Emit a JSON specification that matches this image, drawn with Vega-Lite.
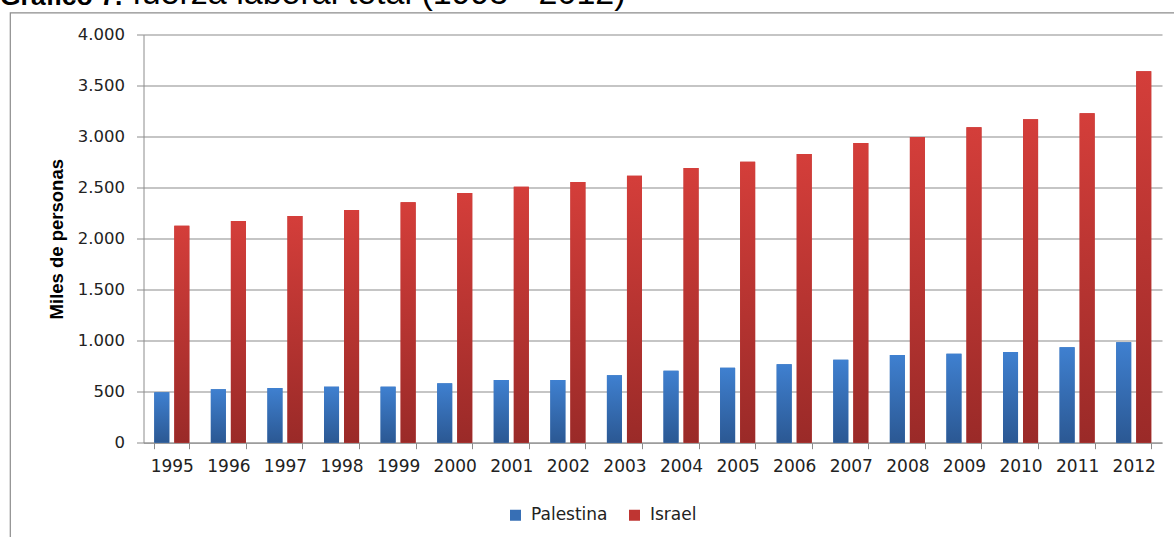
{
  "$schema": "https://vega.github.io/schema/vega-lite/v6.json",
  "autosize": {"type": "none"},
  "padding": {"left": 10, "top": 12.5, "right": 0, "bottom": 0},
  "width": 1180,
  "height": 540,
  "background": "white",
  "view": {"stroke": "#8c8c8c", "strokeWidth": 1.2, "fill": "white"},
  "title": {
    "text": "Gráfico 7.",
    "subtitle": "\u200b\u00a0\u00a0\u00a0\u00a0\u00a0\u00a0\u00a0\u00a0\u00a0\u00a0\u00a0\u00a0\u00a0\u00a0fuerza laboral total (1995 - 2012)",
    "anchor": "start",
    "frame": "group",
    "font": "Liberation Sans",
    "fontSize": 26.5,
    "fontWeight": "bold",
    "color": "#000000",
    "subtitleFont": "Liberation Sans",
    "subtitleFontSize": 34,
    "subtitleFontWeight": "normal",
    "subtitleColor": "#000000",
    "subtitlePadding": -33,
    "dx": -10,
    "offset": -5
  },
  "data": {
    "values": [
      {"year": "1995", "serie": "Palestina", "value": 494},
      {"year": "1996", "serie": "Palestina", "value": 524},
      {"year": "1997", "serie": "Palestina", "value": 536},
      {"year": "1998", "serie": "Palestina", "value": 549},
      {"year": "1999", "serie": "Palestina", "value": 549},
      {"year": "2000", "serie": "Palestina", "value": 582},
      {"year": "2001", "serie": "Palestina", "value": 615},
      {"year": "2002", "serie": "Palestina", "value": 615},
      {"year": "2003", "serie": "Palestina", "value": 661},
      {"year": "2004", "serie": "Palestina", "value": 706},
      {"year": "2005", "serie": "Palestina", "value": 735},
      {"year": "2006", "serie": "Palestina", "value": 769},
      {"year": "2007", "serie": "Palestina", "value": 814},
      {"year": "2008", "serie": "Palestina", "value": 860},
      {"year": "2009", "serie": "Palestina", "value": 873},
      {"year": "2010", "serie": "Palestina", "value": 889},
      {"year": "2011", "serie": "Palestina", "value": 935},
      {"year": "2012", "serie": "Palestina", "value": 984},
      {"year": "1995", "serie": "Israel", "value": 2127},
      {"year": "1996", "serie": "Israel", "value": 2173},
      {"year": "1997", "serie": "Israel", "value": 2222},
      {"year": "1998", "serie": "Israel", "value": 2281},
      {"year": "1999", "serie": "Israel", "value": 2357},
      {"year": "2000", "serie": "Israel", "value": 2448},
      {"year": "2001", "serie": "Israel", "value": 2510},
      {"year": "2002", "serie": "Israel", "value": 2556},
      {"year": "2003", "serie": "Israel", "value": 2618},
      {"year": "2004", "serie": "Israel", "value": 2693},
      {"year": "2005", "serie": "Israel", "value": 2755},
      {"year": "2006", "serie": "Israel", "value": 2830},
      {"year": "2007", "serie": "Israel", "value": 2938},
      {"year": "2008", "serie": "Israel", "value": 2997},
      {"year": "2009", "serie": "Israel", "value": 3092},
      {"year": "2010", "serie": "Israel", "value": 3170},
      {"year": "2011", "serie": "Israel", "value": 3229},
      {"year": "2012", "serie": "Israel", "value": 3641}
    ]
  },
  "encoding": {
    "x": {
      "field": "year",
      "type": "ordinal",
      "scale": {"range": [133.5, 1152], "paddingInner": 0.38, "paddingOuter": 0.19},
      "axis": {
        "title": null,
        "orient": "bottom",
        "offset": -109.8,
        "labelAngle": 0,
        "labelFont": "DejaVu Sans",
        "labelFontSize": 17,
        "labelColor": "#222222",
        "labelPadding": 10,
        "labelOverlap": false,
        "tickBand": "extent",
        "tickSize": 6,
        "tickColor": "#8c8c8c",
        "domainColor": "#8c8c8c",
        "grid": false
      }
    },
    "xOffset": {
      "field": "serie",
      "sort": ["Palestina", "Israel"],
      "scale": {"paddingInner": 0.25}
    },
    "y": {
      "field": "value",
      "type": "quantitative",
      "scale": {"domain": [0, 4000], "range": [430.2, 22.2], "nice": false, "zero": true},
      "axis": {
        "title": "Miles de personas",
        "orient": "left",
        "offset": -133.5,
        "values": [0, 500, 1000, 1500, 2000, 2500, 3000, 3500, 4000],
        "labelExpr": "replace(format(datum.value, ','), ',', '.')",
        "labelFont": "DejaVu Sans",
        "labelFontSize": 16.5,
        "labelColor": "#222222",
        "labelPadding": 12,
        "tickSize": 7,
        "tickColor": "#8c8c8c",
        "domainColor": "#8c8c8c",
        "grid": true,
        "gridColor": "#8c8c8c",
        "gridWidth": 1.2,
        "titleFont": "Liberation Sans",
        "titleFontSize": 18.5,
        "titleFontWeight": "bold",
        "titleColor": "#000000",
        "titlePadding": 11
      }
    }
  },
  "layer": [
    {
      "mark": {"type": "bar"},
      "encoding": {
        "color": {
          "field": "serie",
          "type": "nominal",
          "sort": ["Palestina", "Israel"],
          "scale": {"domain": ["Palestina", "Israel"], "range": ["#376fb5", "#bf3532"]},
          "legend": {
            "title": null,
            "orient": "none",
            "direction": "horizontal",
            "legendX": 497,
            "legendY": 494,
            "symbolType": "square",
            "symbolSize": 121,
            "symbolStrokeWidth": 0,
            "labelFont": "DejaVu Sans",
            "labelFontSize": 17,
            "labelColor": "#222222",
            "labelOffset": 7,
            "columnPadding": 18
          }
        }
      }
    },
    {
      "transform": [{"filter": "datum.serie === 'Palestina'"}],
      "mark": {
        "type": "bar",
        "fill": {"gradient": "linear", "x1": 0, "y1": 0, "x2": 0, "y2": 1, "stops": [{"offset": 0, "color": "#3f80d0"}, {"offset": 1, "color": "#2b5893"}]}
      }
    },
    {
      "transform": [{"filter": "datum.serie === 'Israel'"}],
      "mark": {
        "type": "bar",
        "fill": {"gradient": "linear", "x1": 0, "y1": 0, "x2": 0, "y2": 1, "stops": [{"offset": 0, "color": "#d43e3a"}, {"offset": 1, "color": "#9a2a28"}]}
      }
    }
  ]
}
